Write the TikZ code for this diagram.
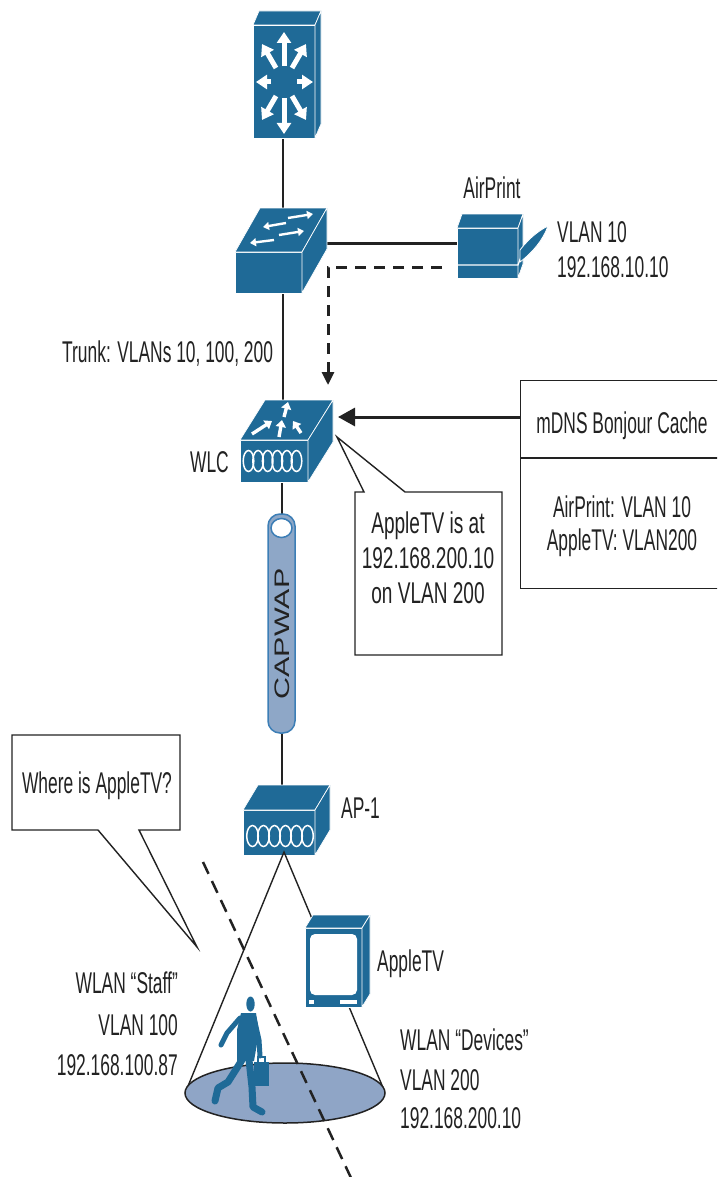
\documentclass[tikz,border=0pt]{standalone}
\usepackage{graphicx}
\usepackage{fontspec}
\setmainfont{Liberation Sans}[FakeStretch=0.58]
\newfontfamily\calloutfont{Liberation Sans}[FakeStretch=0.635]
\newfontfamily\tubefont{Liberation Sans}
\usetikzlibrary{arrows.meta}

\definecolor{ciscoblue}{RGB}{31,106,151}
\definecolor{tubefill}{RGB}{142,167,199}
\definecolor{tubeedge}{RGB}{60,126,182}
\definecolor{cellfill}{RGB}{143,165,198}
\definecolor{ink}{RGB}{34,34,34}

% front face (x1,y1)-(x2,y2), depth offset (dx,dy) towards the back
\newcommand\isobox[6]{%
  \filldraw[face] (#1,#2) rectangle (#3,#4);
  \filldraw[face] (#1,#2) -- ({#1+#5},{#2+#6}) -- ({#3+#5},{#2+#6}) -- (#3,#2) -- cycle;
  \filldraw[face] (#3,#2) -- ({#3+#5},{#2+#6}) -- ({#3+#5},{#4+#6}) -- (#3,#4) -- cycle;
}

\tikzset{
  face/.style={fill=ciscoblue, draw=white, line width=0.7pt, line join=round},
  lbl/.style={font=\fontsize{30}{36}\selectfont, text=ink, inner sep=0pt},
  clbl/.style={font=\calloutfont\fontsize{30}{36}\selectfont, text=ink, inner sep=0pt},
  link/.style={draw=ink, line width=2.2pt},
  cone/.style={draw=ink, line width=1.4pt},
  callout/.style={fill=white, draw=ink, line width=1.4pt, line join=miter},
  bigarrow/.style={-{Triangle[width=14pt,length=11pt]}, draw=white, line width=5pt},
  smallarrow/.style={-{Triangle[width=8pt,length=6pt]}, draw=white, line width=2.4pt},
  midarrow/.style={-{Triangle[width=10pt,length=7pt]}, draw=white, line width=3.4pt},
  wave/.style={draw=white, line width=1.5pt},
  limb/.style={draw=ciscoblue, line cap=round, line join=round},
}

\begin{document}
\begin{tikzpicture}[x=1pt,y=-1pt]
\useasboundingbox (0,0) rectangle (717,1177);
\clip (0,0) rectangle (717,1177);
\fill[white] (0,0) rectangle (717,1177);

% ---------- connection points ----------
\coordinate (core-b) at (283,135);
\coordinate (acc-t) at (283,225);
\coordinate (acc-b) at (283,290);
\coordinate (wlc-t) at (283,420);
\coordinate (wlc-b) at (282,480);
\coordinate (tube-t) at (282,520);
\coordinate (tube-b) at (282,730);
\coordinate (ap-t) at (282,800);
\coordinate (acc-r) at (320,243);
\coordinate (prn-l) at (460,243);
\coordinate (prn-q) at (442,267);
\coordinate (bend) at (328,267);
\coordinate (wlc-q) at (328,385);
\coordinate (cache-in) at (520,417);
\coordinate (wlc-in) at (338,417);
\coordinate (ap-b) at (284,852);
\coordinate (cell-l) at (186,1091);
\coordinate (cell-r) at (384,1090);
\coordinate (cut-a) at (203,862);
\coordinate (cut-b) at (352,1180);

% ---------- wired links ----------
\draw[link] (core-b) -- (acc-t);
\draw[link] (acc-b) -- (wlc-t);
\draw[link] (wlc-b) -- (tube-t);
\draw[link] (tube-b) -- (ap-t);
\draw[link, line width=3pt] (acc-r) -- (prn-l);
\draw[draw=ink, line width=3pt, dash pattern=on 11pt off 8pt,
      -{Triangle[width=12pt,length=13pt]}] (prn-q) -- (bend) -- (wlc-q);

% ---------- core switch ----------
\isobox{253}{25}{315}{138}{6}{-14}
\draw[bigarrow] (284,66) -- (284,32);
\draw[bigarrow] (284,98) -- (284,134);
\draw[bigarrow] (271,82) -- (256,82);
\draw[bigarrow] (297,82) -- (313,82);
\draw[bigarrow] (276,68) -- (262,44);
\draw[bigarrow] (292,68) -- (306,44);
\draw[bigarrow] (276,96) -- (262,120);
\draw[bigarrow] (292,96) -- (306,120);

% ---------- access switch ----------
\isobox{235}{252}{302}{293}{25}{-44}
\draw[smallarrow] (288,218) -- (313,214);
\draw[smallarrow] (286,223) -- (263,227);
\draw[smallarrow] (279,235) -- (304,231);
\draw[smallarrow] (274,240) -- (250,243);

% ---------- printer ----------
\isobox{457}{228}{518}{278}{5}{-14}
\draw[white, line width=1.2pt] (457,265) -- (518,265) -- (523,251);
\filldraw[fill=ciscoblue, draw=white, line width=0.8pt]
  (520,250) .. controls (530,237) and (540,230) .. (548,226)
  .. controls (543,240) and (533,252) .. (520,262) -- cycle;
\node[lbl, anchor=base] (airprint-name) at (492,198) {AirPrint};
\node[lbl, anchor=base west] (airprint-vlan) at (557,242) {VLAN 10};
\node[lbl, anchor=base west] (airprint-ip) at (557,277) {192.168.10.10};

\node[lbl, anchor=base west] (trunk) at (62,362) {Trunk: VLANs 10, 100, 200};

% ---------- wireless LAN controller ----------
\isobox{240}{440}{308}{482}{25}{-40}
\draw[midarrow] (252,434) -- (272,421);
\draw[midarrow] (279,437) -- (282,420);
\draw[midarrow] (301,433) -- (293,421);
\draw[midarrow] (284,417) -- (288,402);
\foreach \i in {0,...,5}
  \draw[wave] ({248.5+9.6*\i},461) ellipse [x radius=5.3, y radius=10.5];
\node[lbl, anchor=base east] (wlc-name) at (229,472) {WLC};

% ---------- cache box and its arrow ----------
\node[draw=ink, line width=1.4pt, fill=white, inner sep=0pt, anchor=north west,
      minimum width=210, minimum height=208] (cache) at (520,380) {};
\draw[ink, line width=1.4pt] (520,458) -- (730,458);
\node[lbl, anchor=base] (cache-title) at (622,433) {mDNS Bonjour Cache};
\node[lbl, anchor=base] (cache-l1) at (622,517) {AirPrint: VLAN 10};
\node[lbl, anchor=base] (cache-l2) at (622,550) {AppleTV: VLAN200};
\draw[draw=ink, line width=3pt, -{Triangle[width=18pt,length=17pt]}] (cache-in) -- (wlc-in);

% ---------- controller reply ----------
\filldraw[callout] (355,492) -- (364,492) -- (337,437) -- (405,492) -- (502,492)
  -- (502,655) -- (355,655) -- cycle;
\node[clbl, anchor=base] (reply-1) at (428,533) {AppleTV is at};
\node[clbl, anchor=base] (reply-2) at (428,568) {192.168.200.10};
\node[clbl, anchor=base] (reply-3) at (428,603) {on VLAN 200};

% ---------- CAPWAP tunnel ----------
\filldraw[fill=tubefill, draw=tubeedge, line width=1.5pt, rounded corners=12pt]
  (268,514) rectangle (295,733);
\filldraw[fill=white, draw=tubeedge, line width=1.5pt] (281.5,528) ellipse [x radius=10.5, y radius=9.5];
\node[rotate=90, text=ink, inner sep=0pt] (tunnel) at (282,634)
  {\tubefont\fontsize{21}{21}\selectfont\scalebox{1.45}[1]{CAPWAP}};

% ---------- access point ----------
\isobox{243}{810}{315}{855}{15}{-25}
\foreach \i in {0,...,5}
  \draw[wave] ({252.5+11*\i},836) ellipse [x radius=5.8, y radius=10.5];
\node[lbl, anchor=base west] (ap-name) at (341,818) {AP-1};

% ---------- client question ----------
\filldraw[callout] (12,735) -- (180,735) -- (180,830) -- (139,830) -- (197,947)
  -- (98,830) -- (12,830) -- cycle;
\node[lbl, anchor=base] (query) at (97,793) {Where is AppleTV?};

% ---------- coverage cell ----------
\draw[cone] (cell-l) -- (ap-b) -- (cell-r);
\filldraw[fill=cellfill, draw=ink, line width=1.5pt] (285,1093) ellipse [x radius=100, y radius=30];

% walking user
\fill[ciscoblue] (250.5,1004) ellipse [x radius=4.2, y radius=7.5];
\fill[ciscoblue] (241,1013) -- (256,1013) -- (259,1032) -- (254,1061) -- (237,1061) -- (237,1030) -- cycle;
\draw[limb, line width=5pt] (240,1018) -- (227,1033) -- (221,1045);
\draw[limb, line width=5pt] (254,1018) -- (259,1040) -- (260,1056);
\draw[limb, line width=7pt] (242,1060) -- (228,1082) -- (218,1088) -- (215,1101);
\draw[limb, line width=7pt] (249,1060) -- (252,1087) -- (253,1107) -- (262,1112);
\fill[ciscoblue] (254,1062) rectangle (269,1086);
\draw[ciscoblue, line width=1.5pt] (258,1062) -- (258,1057) -- (265,1057) -- (265,1062);

\draw[draw=ink, line width=2.5pt, dash pattern=on 13pt off 8pt] (cut-a) -- (cut-b);

% ---------- Apple TV ----------
\isobox{305}{928}{362}{1007}{8}{-13}
\fill[white, rounded corners=5pt] (310,934) rectangle (357,995);
\fill[white] (309,1000) rectangle (314,1004);
\fill[white] (340,1000) rectangle (357,1004);
\node[lbl, anchor=base west] (tv-name) at (377,971) {AppleTV};

% ---------- WLAN labels ----------
\node[lbl, anchor=base east] (staff-1) at (178,993) {WLAN “Staff”};
\node[lbl, anchor=base east] (staff-2) at (178,1035) {VLAN 100};
\node[lbl, anchor=base east] (staff-3) at (178,1075) {192.168.100.87};
\node[lbl, anchor=base west] (dev-1) at (400,1050) {WLAN “Devices”};
\node[lbl, anchor=base west] (dev-2) at (400,1090) {VLAN 200};
\node[lbl, anchor=base west] (dev-3) at (400,1128) {192.168.200.10};
\end{tikzpicture}
\end{document}
